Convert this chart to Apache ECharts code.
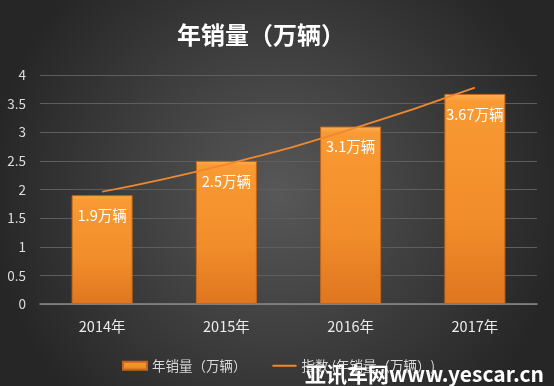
<!DOCTYPE html>
<html><head><meta charset="utf-8">
<script src="https://cdn.jsdelivr.net/npm/echarts@6/dist/echarts.min.js"></script>
<style>html,body{margin:0;padding:0;background:#333;}#c{width:554px;height:386px;}</style>
</head><body><div id="c"></div>
<script>
const categories = ['2014年','2015年','2016年','2017年'];
const sales = [1.9, 2.5, 3.1, 3.67];
const salesLabels = ['1.9万辆','2.5万辆','3.1万辆','3.67万辆'];
const trend = [1.96, 2.44, 3.05, 3.78];
const yTicks = [0, 0.5, 1, 1.5, 2, 2.5, 3, 3.5, 4];

const font = '"Noto Sans CJK SC", "Noto Sans", sans-serif';
const chart = echarts.init(document.getElementById('c'));
chart.setOption({
  backgroundColor: {type:'radial', x:0.5, y:0.5, r:0.75, colorStops:[{offset:0,color:'#585858'},{offset:1,color:'#262626'}]},
  animation:false,
  title:{text:'年销量（万辆）', left:172, top:18, textStyle:{color:'#ffffff', fontSize:24, fontWeight:'bold', fontFamily:font}},
  grid:{left:40, right:17, top:75, bottom:82},
  legend:{left:117, top:354, itemGap:26, itemWidth:24, itemHeight:8,
    textStyle:{color:'#d9d9d9', fontSize:13.5, fontFamily:font},
    data:[{name:'年销量（万辆）', icon:'rect'},
          {name:'指数 (年销量（万辆）)', icon:'path://M0,0L0.01,0L0.01,0.01Z M0,3.1L24,3.1L24,4.9L0,4.9Z M23.99,7.99L24,7.99L24,8Z', itemStyle:{color:'#f0882e'}}]},
  xAxis:{type:'category', data:categories,
    axisLine:{lineStyle:{color:'#8a8a8a', width:1.5}}, axisTick:{show:false},
    axisLabel:{color:'#ececec', fontSize:14.5, fontFamily:font, margin:15}},
  yAxis:{type:'value', min:0, max:4, interval:0.5,
    axisLine:{show:false}, axisTick:{show:false},
    splitLine:{lineStyle:{color:'#5e5e5e', width:1}},
    axisLabel:{color:'#dddddd', fontSize:13.5, fontFamily:font, margin:14,
      formatter:v=>String(yTicks.find(t=>Math.abs(t-v)<1e-9) ?? v)}},
  series:[
    {name:'年销量（万辆）', type:'bar', data:sales, barWidth:61, z:2,
      itemStyle:{color:{type:'linear',x:0,y:0,x2:0,y2:1,colorStops:[{offset:0,color:'#fdb055'},{offset:0.035,color:'#f99a33'},{offset:0.6,color:'#f18d2a'},{offset:1,color:'#df7620'}]},
        borderColor:'#c4661b', borderWidth:1},
      label:{show:true, position:'insideTop', distance:13, color:'#ffffff', fontSize:14.5, fontFamily:font,
        formatter:p=>salesLabels[p.dataIndex]}},
    {name:'指数 (年销量（万辆）)', type:'line', data:trend, smooth:true, symbol:'none', z:5,
      lineStyle:{color:'#f0882e', width:1.7}, itemStyle:{color:'#f0882e'}}
  ],
  graphic:[{type:'text', left:305, top:364, z:100,
    style:{text:'亚讯车网www.yescar.cn', fill:'#ffffff', fontSize:21, fontWeight:'bold', fontFamily:font}}]
});
</script></body></html>
